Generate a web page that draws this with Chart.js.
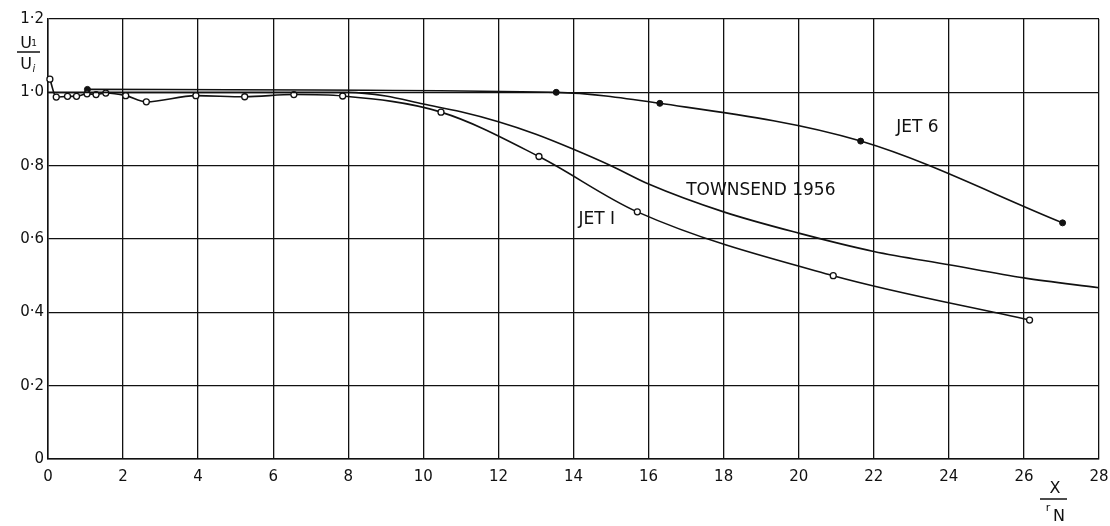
<!DOCTYPE html>
<html>
<head>
<meta charset="utf-8">
<script src="https://cdn.jsdelivr.net/npm/chart.js@4/dist/chart.umd.min.js"></script>
<style>
  html, body { margin: 0; padding: 0; background: #fff; }
  #wrap { width: 1110px; height: 526px; }
</style>
</head>
<body>
<div id="wrap"><canvas id="c" width="1110" height="526"></canvas></div>
<script>
// ---- data (x = X / r_N, y = U1 / Ui) ----
const jet1X = [0.05, 0.22, 0.52, 0.76, 1.04, 1.28, 1.54, 2.07, 2.62, 3.94, 5.24, 6.55, 7.85, 10.47, 13.08, 15.7, 20.92, 26.15];
const jet1Y = [1.036, 0.987, 0.989, 0.989, 0.996, 0.994, 0.998, 0.991, 0.974, 0.991, 0.988, 0.994, 0.99, 0.946, 0.825, 0.674, 0.5, 0.379];

const jet6X = [1.05, 13.54, 16.3, 21.65, 27.03];
const jet6Y = [1.008, 1.0, 0.97, 0.867, 0.644];

const townX = [0, 8, 9, 10, 11, 12, 13, 14, 15, 16, 18, 20, 22, 24, 26, 28];
const townY = [1.0, 1.0, 0.99, 0.968, 0.947, 0.92, 0.886, 0.845, 0.8, 0.75, 0.674, 0.616, 0.566, 0.53, 0.494, 0.467];

const xTicks = [0, 2, 4, 6, 8, 10, 12, 14, 16, 18, 20, 22, 24, 26, 28];
const yTicks = [0, 0.2, 0.4, 0.6, 0.8, 1.0, 1.2];

const labels = [
  { text: 'JET 6', x: 23.16, y: 0.905 },
  { text: 'TOWNSEND 1956', x: 18.99, y: 0.731 },
  { text: 'JET I', x: 14.62, y: 0.654 }
];

const pts = (xs, ys) => xs.map((x, i) => ({ x: x, y: ys[i] }));
const INK = '#111';
const FONT = '"DejaVu Sans", sans-serif';

const whiteBg = {
  id: 'whiteBg',
  beforeDraw(chart) {
    const c = chart.ctx;
    c.save(); c.fillStyle = '#fff'; c.fillRect(0, 0, chart.width, chart.height); c.restore();
  }
};

const annot = {
  id: 'annot',
  afterDatasetsDraw(chart) {
    const c = chart.ctx, xs = chart.scales.x, ys = chart.scales.y;
    c.save();
    c.fillStyle = INK;
    c.font = '17px ' + FONT;
    c.textAlign = 'center'; c.textBaseline = 'middle';
    labels.forEach(l => c.fillText(l.text, xs.getPixelForValue(l.x), ys.getPixelForValue(l.y)));

    // y-axis title U1 / Ui
    c.textAlign = 'center'; c.textBaseline = 'alphabetic';
    c.font = '16px ' + FONT;
    c.fillText('U', 26, 48);
    c.font = '9px ' + FONT; c.fillText('1', 34, 46);
    c.strokeStyle = INK; c.lineWidth = 1.5;
    c.beginPath(); c.moveTo(17, 52); c.lineTo(40, 52); c.stroke();
    c.font = '16px ' + FONT; c.fillText('U', 26, 69);
    c.font = 'italic 10px ' + FONT; c.fillText('i', 34, 72);

    // x-axis title X / rN
    c.font = '16px ' + FONT;
    c.fillText('X', 1055, 493);
    c.beginPath(); c.moveTo(1040, 499); c.lineTo(1067, 499); c.stroke();
    c.font = '11px ' + FONT; c.fillText('r', 1048, 511);
    c.font = '16px ' + FONT; c.fillText('N', 1059, 521);
    c.restore();
  }
};

new Chart(document.getElementById('c'), {
  type: 'line',
  data: {
    datasets: [
      {
        label: 'Townsend 1956', data: pts(townX, townY),
        borderColor: INK, borderWidth: 1.6, pointRadius: 0,
        cubicInterpolationMode: 'monotone', fill: false, clip: false
      },
      {
        label: 'Jet 1', data: pts(jet1X, jet1Y),
        borderColor: INK, borderWidth: 1.6,
        pointRadius: 3, pointBackgroundColor: '#fff', pointBorderColor: INK, pointBorderWidth: 1.3,
        cubicInterpolationMode: 'monotone', fill: false, clip: false
      },
      {
        label: 'Jet 6', data: pts(jet6X, jet6Y),
        borderColor: INK, borderWidth: 1.6,
        pointRadius: 3, pointBackgroundColor: INK, pointBorderColor: INK, pointBorderWidth: 1,
        cubicInterpolationMode: 'monotone', fill: false, clip: false
      }
    ]
  },
  options: {
    responsive: false,
    animation: false,
    layout: { padding: { left: 0, top: 19, right: 11, bottom: 0 } },
    plugins: { legend: { display: false }, tooltip: { enabled: false } },
    scales: {
      x: {
        type: 'linear', min: 0, max: 28,
        afterBuildTicks: s => { s.ticks = xTicks.map(v => ({ value: v })); },
        afterFit: s => { s.height = 67; s.paddingRight = 0; s.paddingLeft = 0; },
        grid: { color: INK, lineWidth: 1.3, drawTicks: false },
        border: { color: INK, width: 1.5 },
        ticks: { color: INK, font: { family: FONT, size: 15 }, padding: 9, maxRotation: 0,
                 callback: v => String(v) }
      },
      y: {
        min: 0, max: 1.2,
        afterBuildTicks: s => { s.ticks = yTicks.map(v => ({ value: v })); },
        afterFit: s => { s.width = 48; s.paddingTop = 0; s.paddingBottom = 0; },
        grid: { color: INK, lineWidth: 1.3, drawTicks: false },
        border: { color: INK, width: 1.5 },
        ticks: { color: INK, font: { family: FONT, size: 15 }, padding: 4,
                 callback: v => v === 0 ? '0' : Number(v).toFixed(1).replace('.', '·') }
      }
    }
  },
  plugins: [whiteBg, annot]
});
</script>
</body>
</html>
